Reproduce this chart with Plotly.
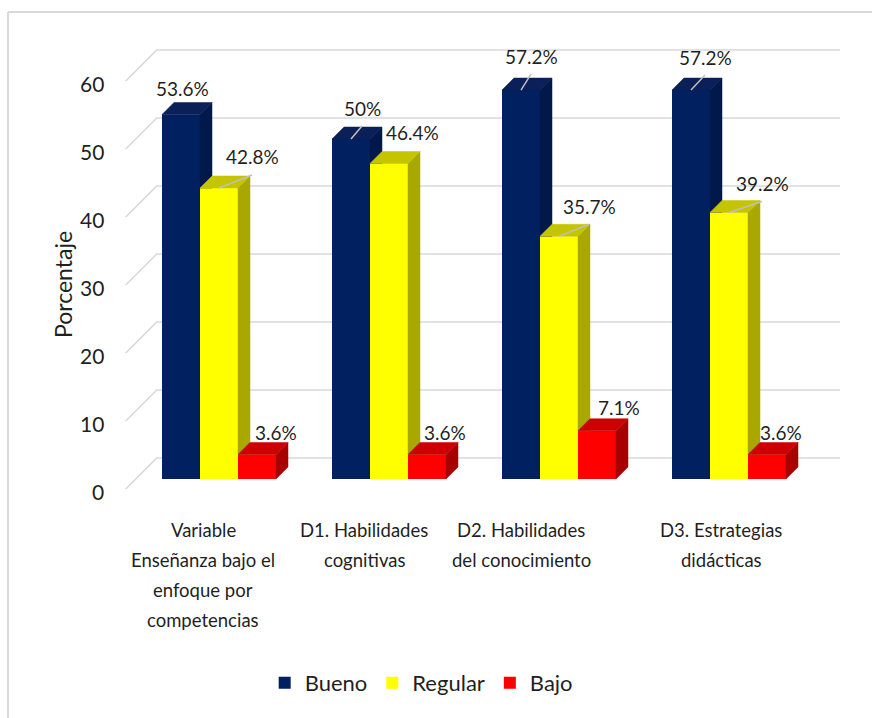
import plotly.graph_objects as go

# ---------------- data ----------------
CATEGORIES = [
    "Variable<br>Enseñanza bajo el<br>enfoque por<br>competencias",
    "D1. Habilidades<br>cognitivas",
    "D2. Habilidades<br>del conocimiento",
    "D3. Estrategias<br>didácticas",
]
SERIES = ["Bueno", "Regular", "Bajo"]
BUENO = [53.6, 50.0, 57.2, 57.2]
REGULAR = [42.8, 46.4, 35.7, 39.2]
BAJO = [3.6, 3.6, 7.1, 3.6]
Y_TICKS = [0, 10, 20, 30, 40, 50, 60]
AXIS_TITLE = "Porcentaje"

VALUES = {"Bueno": BUENO, "Regular": REGULAR, "Bajo": BAJO}

# ---------------- style / geometry (pixels) ----------------
W, H = 872, 718
PX_PER_CAT = 170.0      # distance between category groups
PX_PER_UNIT = 6.8       # pixels per percentage point
ORIGIN_X = 219.0        # px of first category centre
ORIGIN_Y = 479.0        # px of value 0 on the bar front plane
BAR_PX = 38             # bar width
DEPTH_PX = 12           # bar depth (oblique 45 deg)
BACK_PX = 21            # back wall offset behind bar front plane
FRONT_PX = -10          # front edge of floor / axis plane
WALL_X = (-0.49, 3.53)  # left / right ends of the walls (category units)

FONT = "Lato, Liberation Sans, sans-serif"
TXT = "#1f1f1f"
GRID = "#d9d9d9"

COLORS = {  # front, side, top
    "Bueno": ("#002060", "#00184a", "#0b1f58"),
    "Regular": ("#ffff00", "#a8a800", "#c4c400"),
    "Bajo": ("#ff0000", "#a80000", "#cc0000"),
}
# data label shift (px right, px down) from the back-top centre of each bar
LABEL_SHIFT = {
    "Bueno": [(-11, -14), (-1, -19), (-2, -22), (2, -21)],
    "Regular": [(21, -19), (11, -19), (18, -18), (21, -17)],
    "Bajo": [(7, -10), (6, -10), (10, -11), (2, -10)],
}
LEADER = {"Bueno": [0, 1, 1, 1], "Regular": [1, 0, 1, 1], "Bajo": [0, 0, 0, 0]}
CAT_SHIFT = [-16, -25, -38, -8]


def dx(px):
    return px / PX_PER_CAT


def dy(px):
    return px / PX_PER_UNIT


def clip_above(poly, c):
    out = []
    n = len(poly)
    for i in range(n):
        p, q = poly[i], poly[(i + 1) % n]
        pin, qin = p[1] >= c, q[1] >= c
        if pin:
            out.append(p)
        if pin != qin:
            t = (c - p[1]) / (q[1] - p[1])
            out.append((p[0] + t * (q[0] - p[0]), c))
    return out


def poly_trace(poly, color):
    xs = [p[0] for p in poly] + [poly[0][0]]
    ys = [p[1] for p in poly] + [poly[0][1]]
    return go.Scatter(x=xs, y=ys, mode="lines", fill="toself", fillcolor=color,
                      line=dict(color=color, width=0.5), hoverinfo="skip",
                      showlegend=False)


x_range = [-ORIGIN_X / PX_PER_CAT, (W - ORIGIN_X) / PX_PER_CAT]
y_range = [-(H - ORIGIN_Y) / PX_PER_UNIT, ORIGIN_Y / PX_PER_UNIT]

bw = dx(BAR_PX)
ddx, ddy = dx(DEPTH_PX), dy(DEPTH_PX)
n_s = len(SERIES)
offsets = [(j - (n_s - 1) / 2) * bw for j in range(n_s)]
cats = list(range(len(CATEGORIES)))

fig = go.Figure()
annotations = []
leaders = []

for j, s in enumerate(SERIES):
    front, side, top = COLORS[s]
    vals = VALUES[s]
    xs = [k + offsets[j] for k in cats]
    for k, v in enumerate(vals):
        xl, xr = xs[k] - bw / 2, xs[k] + bw / 2
        side_poly = [(xr, 0), (xr + ddx, ddy), (xr + ddx, v + ddy), (xr, v)]
        if j + 1 < n_s:
            side_poly = clip_above(side_poly, VALUES[SERIES[j + 1]][k])
        if len(side_poly) >= 3:
            fig.add_trace(poly_trace(side_poly, side))
        top_poly = [(xl, v), (xr, v), (xr + ddx, v + ddy), (xl + ddx, v + ddy)]
        fig.add_trace(poly_trace(top_poly, top))
        # data label
        sx, sy = LABEL_SHIFT[s][k]
        lx, ly = xs[k] + ddx, v + ddy
        annotations.append(dict(x=lx, y=ly, xref="x", yref="y", text=f"{v:g}%",
                                showarrow=False, xshift=sx, yshift=-sy,
                                xanchor="center", yanchor="middle",
                                font=dict(family=FONT, size=19, color=TXT)))
        if LEADER[s][k]:
            ex = lx + dx(sx)
            ey = ly - dy(sy) - dy(18)
            leaders.append(((xs[k], v), (ex, ey)))
    fig.add_trace(go.Bar(x=xs, y=vals, width=bw, name=s,
                         marker=dict(color=front, line=dict(width=0)),
                         hovertemplate="%{y}%<extra>" + s + "</extra>"))

for (a, b) in leaders:
    fig.add_trace(go.Scatter(x=[a[0], b[0]], y=[a[1], b[1]], mode="lines",
                             line=dict(color="#bfbfbf", width=1.5),
                             hoverinfo="skip", showlegend=False))

# walls / gridlines
shapes = []
fx, fy = dx(FRONT_PX), dy(FRONT_PX)
bx, by = dx(BACK_PX), dy(BACK_PX)
for v in Y_TICKS:
    path = (f"M{WALL_X[0] + fx},{v + fy} L{WALL_X[0] + bx},{v + by} "
            f"L{WALL_X[1] + bx},{v + by}")
    shapes.append(dict(type="path", path=path, xref="x", yref="y", layer="below",
                       line=dict(color=GRID, width=1.6)))
    annotations.append(dict(x=WALL_X[0] + fx, y=v + fy, xref="x", yref="y",
                            text=str(v), showarrow=False, xanchor="right",
                            yanchor="middle", xshift=-20, yshift=-2,
                            font=dict(family=FONT, size=21, color=TXT)))

# category labels (one annotation per line)
for k, lab in enumerate(CATEGORIES):
    for i, line in enumerate(lab.split("<br>")):
        annotations.append(dict(x=k, y=0, xref="x", yref="y", text=line,
                                showarrow=False, xanchor="center", yanchor="middle",
                                xshift=CAT_SHIFT[k], yshift=-(51 + 30 * i),
                                font=dict(family=FONT, size=18.5, color=TXT)))

annotations.append(dict(x=63 / W, y=1 - 285 / H, xref="paper", yref="paper",
                        text=AXIS_TITLE, showarrow=False, textangle=-90,
                        xanchor="center", yanchor="middle",
                        font=dict(family=FONT, size=23, color=TXT)))

# outer chart border (left and top edges visible)
shapes.append(dict(type="line", xref="paper", yref="paper", x0=8 / W, x1=8 / W,
                   y0=-0.02, y1=1 - 12 / H, line=dict(color=GRID, width=2),
                   layer="below"))
shapes.append(dict(type="line", xref="paper", yref="paper", x0=8 / W, x1=1.02,
                   y0=1 - 12 / H, y1=1 - 12 / H, line=dict(color=GRID, width=2),
                   layer="below"))

fig.update_layout(
    width=W, height=H,
    margin=dict(l=0, r=0, t=0, b=0, pad=0),
    paper_bgcolor="white", plot_bgcolor="white",
    barmode="overlay",
    xaxis=dict(range=x_range, visible=False, fixedrange=True),
    yaxis=dict(range=y_range, visible=False, fixedrange=True),
    shapes=shapes, annotations=annotations,
    showlegend=True,
    legend=dict(orientation="h", x=0.483, xanchor="center", y=1 - 683 / H,
                yanchor="middle", font=dict(family=FONT, size=22, color=TXT),
                itemwidth=30, bgcolor="rgba(0,0,0,0)"),
    font=dict(family=FONT, color=TXT),
)

fig.write_html("out.html", config={"displayModeBar": False},
               post_script="document.body.style.margin='0px';")
